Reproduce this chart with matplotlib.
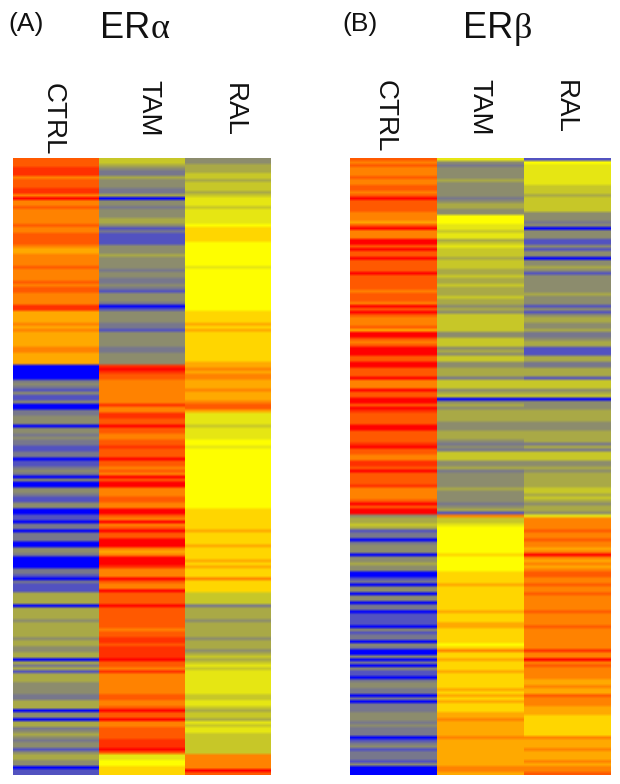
import numpy as np
import matplotlib
matplotlib.use('Agg')
import matplotlib.pyplot as plt
from matplotlib.colors import LinearSegmentedColormap

W, H = 620, 784

# expression level, top row first (0 = blue ... 13 = red)
a_ctrl = [11,11,11,12,12,12,10,11,11,11, 12,12,10,13,10,10,11,10,10,10, 10,10,11,10,10,11,11,11,11,10,
          9,9,10,10,10,10,11,10,10,10, 10,11,10,11,11,10,10,10,10,12, 12,
          9,9,9,9,10,9,10,9,9,9, 9,9,10,10,9,9,9,9,0,0, 0,0,0,2,3,2,1,3,1,1, 3,0,0,2,2,3,3,3,0,3,
          3,2,3,2,2,1,1,2,2,0, 1,1,2,
          3,2,0,3,0,0,3,3,2,1, 1,3,3,0,0,1,1,0,2,2, 0,2,2,2,0,0,3,3,2,0, 0,0,0,2,2,1,0,2,1,1,
          1,4,4,4,4,0,4,4,4,4, 3,4,
          4,4,4,4,3,4,4,3,3,4, 4,0,4,2,4,1,4,4,4,3, 3,3,3,2,2,4,4,4,0,3, 3,0,4,4,2,3,4,3,2,3,
          3,1,3,4,4,3,3,0,1,1]
a_tam = [5,5,4,3,2,2,4,3,3,3, 2,2,4,0,3,3,2,3,3,3, 4,4,3,1,2,1,1,1,1,3, 3,3,4,3,3,3,3,2,3,3,
         2,2,3,2,1,3,3,3,2,0, 1,
         3,3,3,3,2,2,1,3,3,3, 3,3,2,2,3,3,3,3,12,13, 12,11,11,10,10,10,10,10,10,10, 10,12,10,10,12,12,11,11,13,11,
         11,10,10,11,11,12,11,11,11,13, 11,11,10,
         11,10,13,11,13,13,10,10,10,11, 11,10,10,13,13,11,10,13,10,11, 13,11,11,13,13,13,10,9,10,13, 13,13,12,10,10,10,13,11,10,10,
         13,11,11,11,11,13,11,11,11,11, 11,11,
         11,10,11,11,12,12,11,12,12,12, 12,13,11,11,10,12,10,10,10,10, 10,10,10,11,11,10,10,11,13,11, 11,13,10,10,11,11,11,11,12,12,
         12,13,11,6,6,7,7,8,8,8]
a_ral = [3,3,4,4,4,5,5,4,5,5, 5,4,5,6,6,6,5,6,6,6, 6,6,7,8,8,8,8,8,7,7, 7,7,7,7,7,7,6,7,7,7,
         7,7,7,7,7,7,7,7,7,7, 7,
         8,8,8,8,9,8,9,8,8,8, 8,8,8,8,8,8,8,9,9,10, 9,10,10,9,9,9,10,9,9,9, 10,11,11,9,6,6,6,6,5,6,
         6,6,6,7,7,6,7,7,7,7, 7,7,7,
         7,7,7,7,7,7,7,7,7,7, 7,7,7,8,8,8,8,8,8,8, 9,8,8,8,8,9,8,8,8,8, 9,8,9,8,8,8,10,8,8,8,
         8,5,5,5,5,2,4,4,4,4, 3,4,
         4,4,4,4,3,4,4,4,3,4, 5,4,5,6,5,6,6,6,6,6, 6,6,6,5,5,6,6,5,4,5, 5,4,6,5,6,6,5,5,5,5,
         5,5,5,10,10,10,10,10,13,11]

b_ctrl = [11,10,11,10,10,10,11,10,10,11, 11,10,11,13,11,11,11,11,10,10, 10,9,11,13,10,10,10,13,13,11, 13,11,11,13,11,11,11,11,13,11,
          11,11,11,11,10,11,11,11,10,13, 11,
          13,11,10,10,10,11,9,13,13,11, 10,11,13,13,13,11,11,13,13,11, 11,11,13,10,10,10,13,11,11,13, 13,11,13,12,11,11,11,11,13,13,
          11,11,11,11,12,13,11,11,10,10, 12,12,11,
          13,11,11,11,11,12,10,10,10,10, 11,13,11,13,13,3,4,4,5,4, 1,2,2,0,2,3,3,3,0,3, 3,4,3,3,0,0,1,2,0,3,
          3,0,3,3,0,2,2,0,1,1, 1,1,
          0,3,1,2,2,0,3,2,0,0, 3,0,2,0,3,1,1,0,2,3, 3,2,2,0,2,0,2,2,2,3, 3,3,2,3,2,2,2,0,1,2,
          3,1,2,2,2,1,3,0,0,0]
b_tam = [6,3,2,3,3,3,3,4,3,3, 3,3,3,2,3,4,4,3,3,7, 7,7,6,6,5,6,6,4,5,6, 5,5,5,4,5,5,5,4,4,5,
         4,4,5,4,4,4,5,4,4,3, 4,
         3,5,5,5,5,5,5,3,3,5, 5,5,3,4,3,5,5,3,3,4, 4,4,2,5,5,5,3,4,5,0, 3,4,3,4,4,4,4,3,3,3,
         4,4,4,3,2,3,2,5,5,5, 3,3,4,
         2,3,3,3,3,3,4,3,3,3, 3,2,3,4,1,10,5,5,6,7, 7,7,7,7,7,7,7,7,8,7, 7,7,7,7,8,8,8,8,9,8,
         8,8,8,8,8,8,8,9,8,8, 8,9,
         9,8,8,8,8,8,7,8,10,8, 8,9,8,8,8,9,8,8,8,8, 8,9,8,9,8,9,8,8,8,9, 9,10,9,9,9,9,9,10,9,9,
         9,9,9,9,9,9,9,10,10,9]
b_ral = [1,7,6,6,6,6,6,6,6,5, 5,5,4,5,5,5,5,5,3,3, 3,2,3,0,3,3,3,1,1,3, 1,3,3,0,3,3,4,3,1,3,
         3,3,3,3,3,4,3,3,3,1, 3,
         1,3,4,4,3,3,4,2,2,3, 4,4,1,1,1,4,4,2,2,4, 4,4,1,5,5,5,3,4,5,0, 3,3,3,4,4,4,4,3,3,3,
         4,4,4,4,2,4,2,5,5,5, 3,3,4,
         3,4,4,4,4,4,5,5,4,5, 4,3,4,4,3,6,10,10,10,10, 11,10,10,11,10,10,9,10,13,10, 9,10,9,10,11,11,10,10,11,10,
         10,11,10,10,10,10,10,11,10,10, 10,10,
         11,10,10,10,10,10,10,10,12,10, 10,13,10,11,10,10,10,10,9,9, 10,9,9,11,10,10,10,9,9,9, 8,8,8,8,8,8,8,10,9,9,
         9,10,9,9,9,10,9,10,10,11]

columns = ['CTRL', 'TAM', 'RAL']

level_colors = ['#0000ff', '#5555be', '#78788c', '#8c8c6e', '#aaaa46', '#c8c828', '#e6e614',
                '#ffff00', '#ffd700', '#ffaa00', '#ff8200', '#ff5a00', '#ff3200', '#ff0000']
heat = LinearSegmentedColormap.from_list('heat', level_colors)


def text_px(x, y, s, **kw):
    # place text by pixel position in the figure
    fig.text(x / W, 1 - y / H, s, color='#111111', **kw)


def draw_panel(rect, data):
    left, top, right, bottom = rect
    ax = fig.add_axes([left / W, 1 - bottom / H, (right - left) / W, (bottom - top) / H])
    for j, col in enumerate(data):
        col = np.array(col, dtype=float).reshape(-1, 1)
        ax.imshow(col, cmap=heat, vmin=0, vmax=13, aspect='auto', interpolation='bilinear',
                  interpolation_stage='rgba', extent=(j, j + 1, len(col), 0))
    ax.set_xlim(0, 3)
    ax.set_ylim(len(data[0]), 0)
    ax.axis('off')
    return ax


fig = plt.figure(figsize=(W / 100, H / 100), dpi=100)
plt.rcParams['font.family'] = ['Liberation Sans', 'DejaVu Sans']

draw_panel((13, 158, 271, 775), [a_ctrl, a_tam, a_ral])
draw_panel((350, 158, 611, 775), [b_ctrl, b_tam, b_ral])

# panel letters and titles
text_px(8, 24, '(A)', fontsize=19, va='center')
text_px(342, 24, '(B)', fontsize=19, va='center')
text_px(100, 38, 'ER', fontsize=26, va='baseline')
text_px(151, 38, 'α', fontsize=26, va='baseline', family='Liberation Serif')
text_px(463, 38, 'ER', fontsize=26, va='baseline')
text_px(514, 38, 'β', fontsize=26, va='baseline', family='Liberation Serif')

# column headings, reading downwards
for name, x, y in zip(columns, [53, 148, 234], [83, 80, 83]):
    text_px(x, y, name, fontsize=20, rotation=-90, ha='center', va='top')
for name, x, y in zip(columns, [385, 479, 565], [80, 79, 80]):
    text_px(x, y, name, fontsize=20, rotation=-90, ha='center', va='top')

fig.savefig('out.png', dpi=100)
